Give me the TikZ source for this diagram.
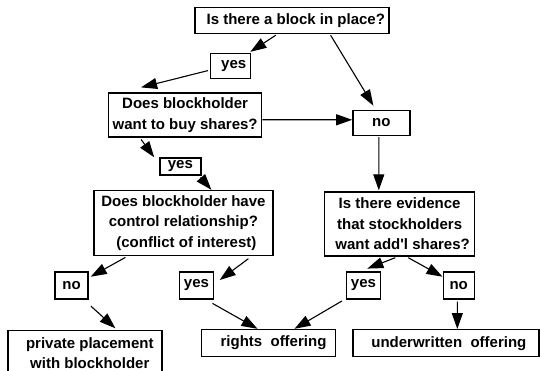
\documentclass[tikz,border=0pt]{standalone}
\usepackage{fontspec}
\setmainfont{Liberation Sans}
\usetikzlibrary{arrows.meta}
\tikzset{
  box/.style={draw, line width=1.4pt, inner sep=0pt, align=center,
    font=\fontsize{15}{20.5}\selectfont\bfseries},
  arr/.style={line width=1.1pt, -{Triangle[length=16pt,width=11pt]}},
}
\begin{document}
\begin{tikzpicture}[x=1pt,y=-1pt]
\useasboundingbox (0,0) rectangle (540,371);

\node[box, minimum width=194pt, minimum height=26pt] (block) at (291.8,20.5) {\hspace{8pt}Is there a block in place?};
\node[box, minimum width=40pt, minimum height=25pt] (yesA) at (230.7,66) {\hspace{6pt}yes};
\node[box, minimum width=153pt, minimum height=44pt] (buy) at (185.1,115.1) {Does blockholder\\want to buy shares?};
\node[box, minimum width=57pt, minimum height=25pt] (noA) at (381.4,122.9) {no};
\node[box, minimum width=41pt, minimum height=17pt] (yesB) at (180.4,166.5) {yes};
\node[box, minimum width=179pt, minimum height=65pt] (control) at (183.4,223) {Does blockholder have\\control relationship?\\\hspace{6pt}(conflict of interest)};
\node[box, minimum width=150pt, minimum height=64pt] (evidence) at (399.6,224) {Is there evidence\\that stockholders\\\hspace{6pt}want add\textquotesingle l shares?};

\node[box, minimum width=33pt, minimum height=27pt] (noB) at (71.5,285.5) {no};
\node[box, minimum width=34pt, minimum height=27pt] (yesC) at (196.5,285.5) {yes};
\node[box, minimum width=34pt, minimum height=27pt] (yesD) at (363.5,285.5) {yes};
\node[box, minimum width=31pt, minimum height=27pt] (noC) at (458.7,285.5) {no};

\node[box, minimum width=154pt, minimum height=45pt] (private) at (84.8,353) {\hspace{10pt}private placement\\\hspace{10pt}with blockholder};
\node[box, minimum width=134pt, minimum height=27pt] (rights) at (268.5,343) {\hspace{10pt}rights~~offering};
\node[box, minimum width=186pt, minimum height=27pt] (underwritten) at (445.9,343.2) {\hspace{6pt}underwritten~~offering};

% first question
\draw[arr] ([xshift=-16pt,yshift=-1pt]block.south) -- ([xshift=-1pt,yshift=1pt]yesA.north east);
\draw[arr] ([xshift=38.8pt,yshift=-1pt]block.south) -- ([xshift=-8pt,yshift=4pt]noA.north);
\draw[arr] ([xshift=-2pt,yshift=-4.6pt]yesA.west) -- ([xshift=-44pt,yshift=5pt]buy.north);

% second question
\draw[arr] ([yshift=-4.7pt]buy.east) -- ([yshift=3.1pt]noA.west);
\draw[arr] ([xshift=-44pt,yshift=-1.7pt]buy.south) -- ([xshift=-5pt]yesB.north west);
\draw[arr] ([xshift=-1pt,yshift=-1.7pt]yesB.south east) -- ([xshift=28pt]control.north);
\draw[arr] ([xshift=-2.6pt,yshift=-1pt]noA.south) -- ([xshift=-20.8pt,yshift=1pt]evidence.north);

% control relationship
\draw[arr] ([xshift=-58pt,yshift=-1.2pt]control.south) -- ([xshift=2pt,yshift=8.8pt]noB.east);
\draw[arr] ([xshift=65pt,yshift=-2.5pt]control.south) -- ([xshift=5.5pt,yshift=5.5pt]yesC.east);
\draw[arr] ([xshift=2.2pt,yshift=-6.4pt]noB.south east) -- ([xshift=30.6pt,yshift=1.5pt]private.north);
\draw[arr] ([xshift=-1.7pt,yshift=-3.7pt]yesC.south east) -- ([xshift=-11pt]rights.north);

% evidence
\draw[arr] ([xshift=-4.3pt,yshift=-1pt]evidence.south) -- ([xshift=3.8pt,yshift=2.7pt]yesD.north);
\draw[arr] ([xshift=8.7pt,yshift=-1pt]evidence.south) -- ([yshift=8.8pt]noC.west);
\draw[arr] ([xshift=-3.9pt,yshift=-1.3pt]yesD.south west) -- ([xshift=26pt]rights.north);
\draw[arr] ([xshift=-1.4pt,yshift=-2pt]noC.south) -- ([xshift=11.4pt]underwritten.north);
\end{tikzpicture}
\end{document}
